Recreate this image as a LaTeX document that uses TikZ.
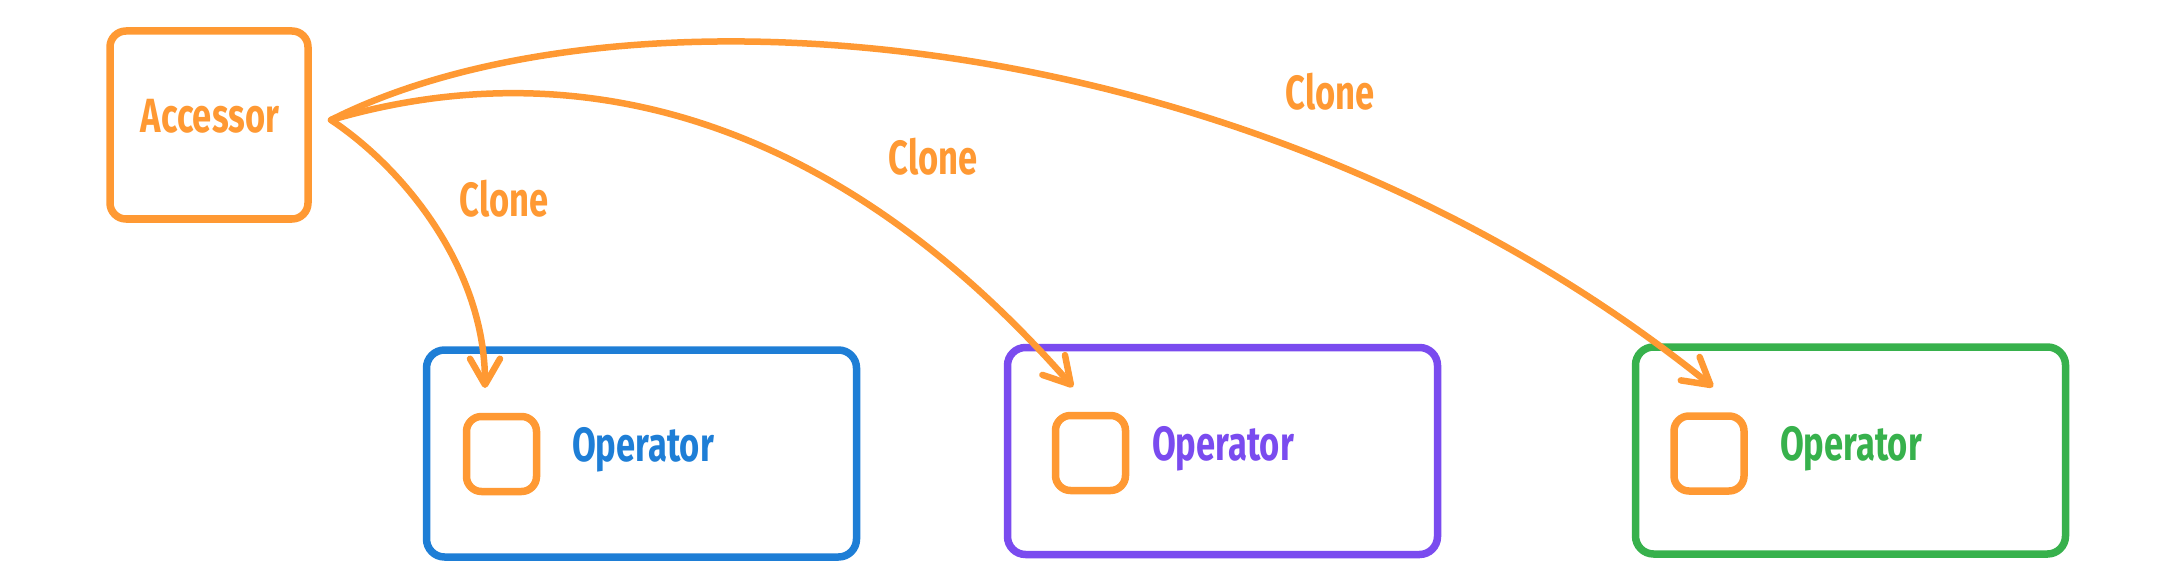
\documentclass[tikz,border=0pt]{standalone}
\usepackage{fontspec}
\setmainfont{Fira Sans}
\newfontfamily\hand[FakeStretch=0.72]{Fira Sans}
\usetikzlibrary{arrows.meta}
\definecolor{orng}{HTML}{FF9933}
\definecolor{blu}{HTML}{1E7ED6}
\definecolor{purp}{HTML}{7A4BEF}
\definecolor{grn}{HTML}{37B14C}
\begin{document}
\begin{tikzpicture}[x=1pt,y=-1pt,
  bigbox/.style={draw, line width=7.5pt, rounded corners=18pt, minimum width=430pt, minimum height=207pt, inner sep=0pt, outer sep=0pt},
  slot/.style={draw=orng, line width=7.5pt, rounded corners=15pt, minimum width=70pt, minimum height=75pt, inner sep=0pt, outer sep=0pt},
  lbl/.style={anchor=base, inner sep=0pt, font=\hand\bfseries\fontsize{48}{54}\selectfont},
  conn/.style={draw=orng, line width=6.5pt, line cap=round, -{Straight Barb[length=26pt,width=30pt,round]}}
]
\useasboundingbox (0,0) rectangle (2173,588);
% Accessor
\node[draw=orng, line width=7.5pt, rounded corners=16pt, minimum width=198pt, minimum height=188pt, inner sep=0pt] (acc) at (209,125) {};
\node[lbl, text=orng] (acct) at (210,133) {Accessor};
% Operators
\node[bigbox, draw=blu] (op1) at (641.5,453.5) {};
\node[bigbox, draw=purp] (op2) at (1222.5,451) {};
\node[bigbox, draw=grn] (op3) at (1850.5,450.5) {};
\node[slot] (s1) at (501.5,454) {};
\node[slot] (s2) at (1090.5,453) {};
\node[slot] (s3) at (1709,453.5) {};
\node[lbl, text=blu] (o1) at (643,461) {Operator};
\node[lbl, text=purp] (o2) at (1223,460) {Operator};
\node[lbl, text=grn] (o3) at (1851,460) {Operator};
% labels
\node[lbl, text=orng] (c1) at (504,216) {Clone};
\node[lbl, text=orng] (c2) at (933,175) {Clone};
\node[lbl, text=orng] (c3) at (1330,110) {Clone};
% connectors
\coordinate (src) at (331,120);
\coordinate (t1) at (485,388);
\coordinate (t2) at (1073,387);
\coordinate (t3) at (1713,387);
\draw[conn] (src) .. controls (406,170) and (485,270) .. (t1);
\draw[conn] (src) .. controls (570,50) and (830,110) .. (t2);
\draw[conn] (src) .. controls (621,-27) and (1253,17) .. (t3);
\end{tikzpicture}
\end{document}
